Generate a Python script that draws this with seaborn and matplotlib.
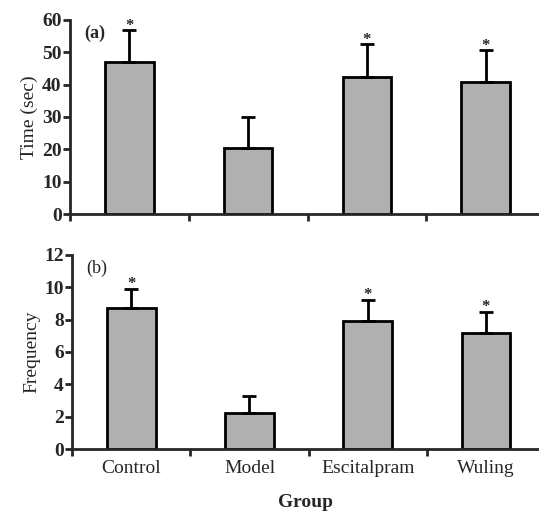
import numpy as np
import pandas as pd
import matplotlib
matplotlib.use("Agg")
import matplotlib.pyplot as plt
from matplotlib.ticker import FixedLocator
import seaborn as sns

groups = ["Control", "Model", "Escitalpram", "Wuling"]
time_mean = [46.9, 20.3, 42.4, 40.8]
time_sd = [10.0, 9.6, 10.2, 10.0]
freq_mean = [8.7, 2.2, 7.9, 7.2]
freq_sd = [1.2, 1.1, 1.3, 1.3]
significant = [True, False, True, True]

sns.set_theme(style="ticks")
plt.rcParams['font.family'] = ['Liberation Serif', 'DejaVu Serif']

fig = plt.figure(figsize=(5.39, 5.12), dpi=100)
ax_a = fig.add_axes([0.130, 0.582, 0.870, 0.379])
ax_b = fig.add_axes([0.134, 0.123, 0.866, 0.379])

bar_color = "#b0b0b0"


def draw_panel(ax, means, sds, ylim, yticks, ylabel, tag, tag_weight, star_pad):
    df = pd.DataFrame({"group": groups, "value": means})
    sns.barplot(data=df, x="group", y="value", color=bar_color, width=0.41,
                edgecolor="black", linewidth=2, saturation=1, errorbar=None, ax=ax)
    x = np.arange(len(groups))
    ax.errorbar(x, means, yerr=[np.zeros(len(sds)), sds], fmt="none",
                ecolor="black", elinewidth=2, capsize=5, capthick=2)
    for xi, m, s, sig in zip(x, means, sds, significant):
        if sig:
            ax.text(xi, m + s + star_pad, "*", ha="center", va="center",
                    fontsize=12, fontweight="bold")
    ax.set_xlim(-0.5, 3.45)
    ax.set_ylim(*ylim)
    ax.set_yticks(yticks)
    ax.set_ylabel(ylabel, fontsize=14, labelpad=3)
    ax.text(0.03, 0.975, tag, transform=ax.transAxes, ha="left", va="top",
            fontsize=13, fontweight=tag_weight)
    sns.despine(ax=ax)
    for sp in ["left", "bottom"]:
        ax.spines[sp].set_linewidth(2)
    ax.tick_params(axis="y", width=2, length=5, labelsize=14, pad=1)
    for lab in ax.get_yticklabels():
        lab.set_fontweight("bold")
    ax.xaxis.set_minor_locator(FixedLocator([-0.5, 0.5, 1.5, 2.5]))
    ax.tick_params(axis="x", which="major", length=0, labelsize=14, pad=8)
    ax.tick_params(axis="x", which="minor", length=5, width=2)


draw_panel(ax_a, time_mean, time_sd, (0, 60), range(0, 61, 10),
           "Time (sec)", "(a)", "bold", 1.3)
draw_panel(ax_b, freq_mean, freq_sd, (0, 12), range(0, 13, 2),
           "Frequency", "(b)", "normal", 0.3)

ax_a.set_xlabel("")
ax_a.set_xticklabels([])
ax_b.set_xlabel("Group", fontsize=14, fontweight="bold", labelpad=12)

fig.savefig("out.png", dpi=100)
